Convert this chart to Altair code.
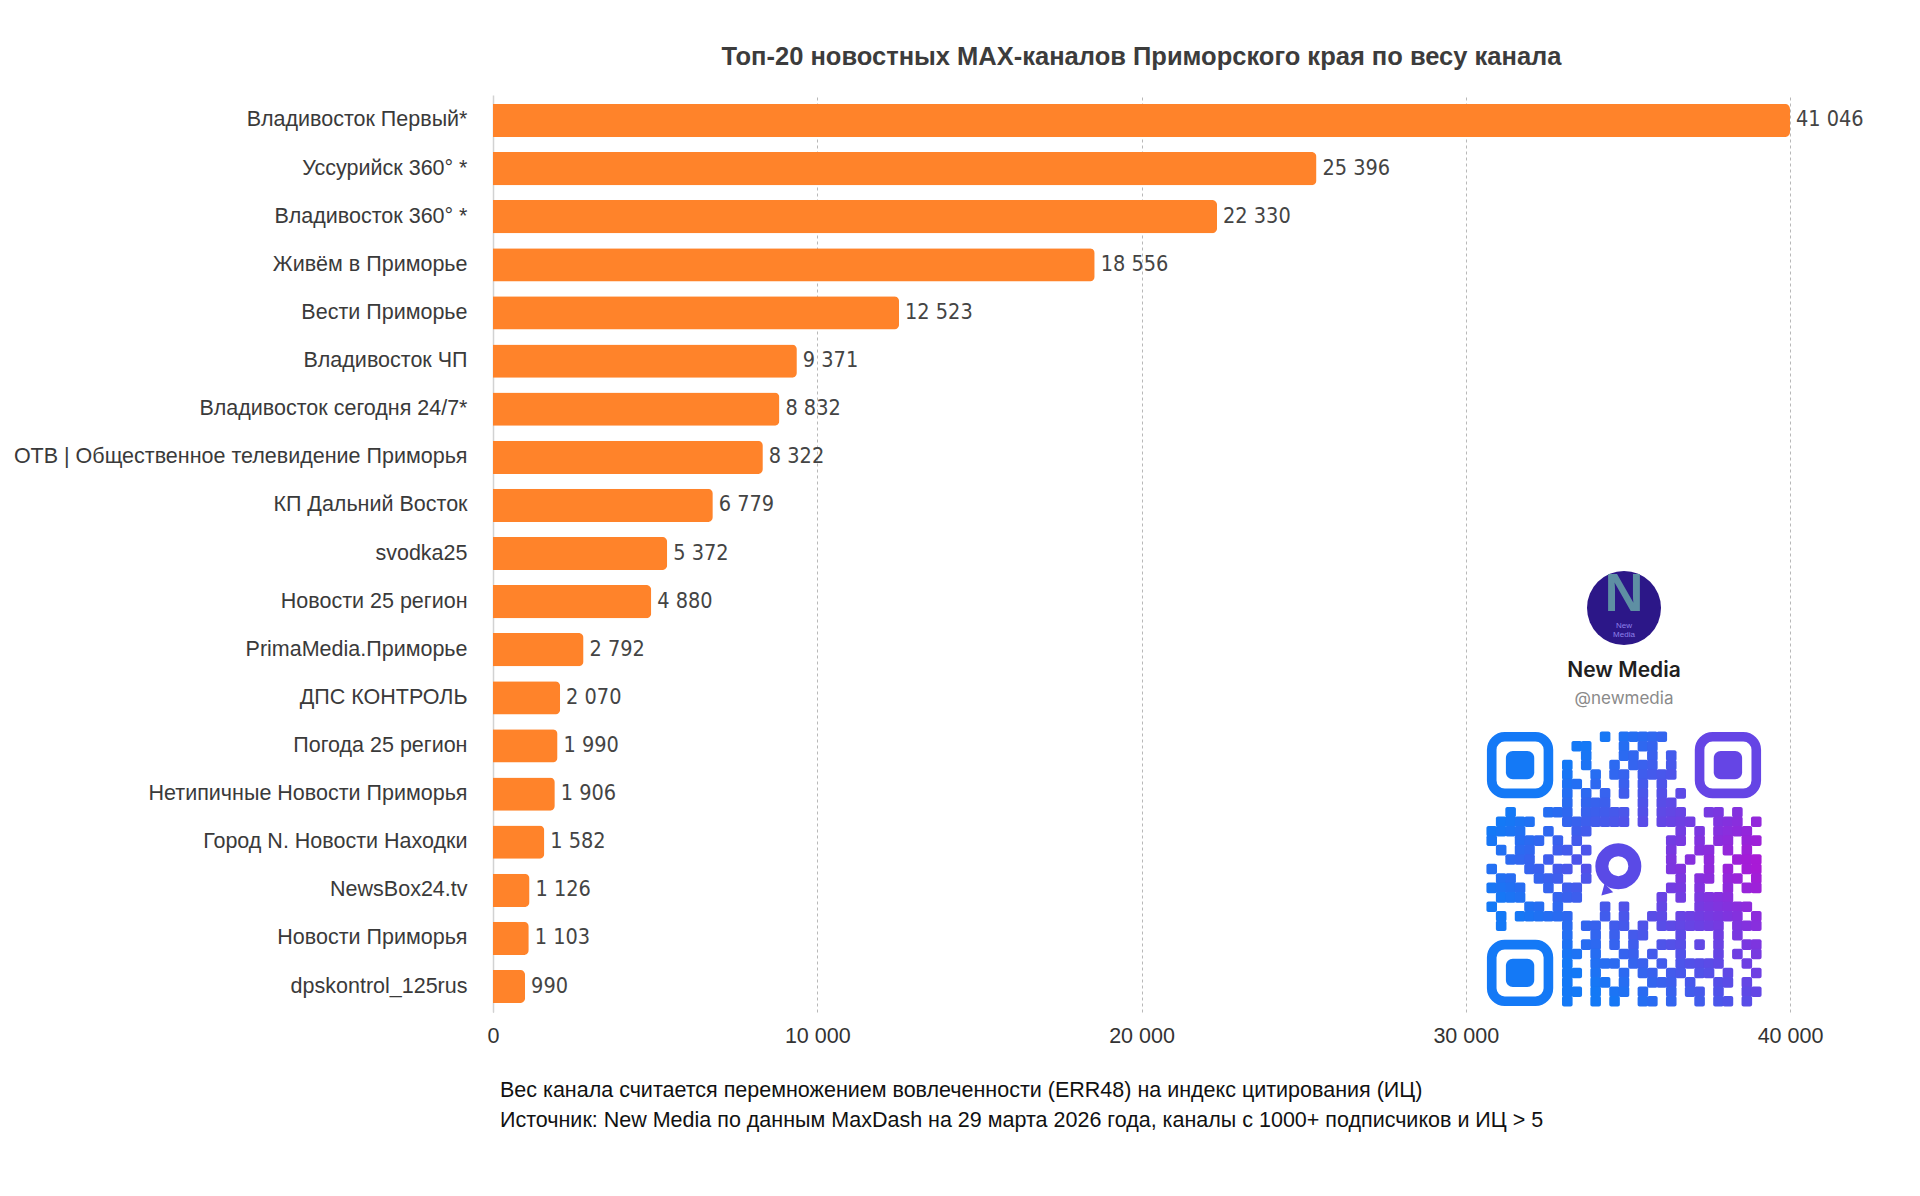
import altair as alt
import pandas as pd

# ---------------- data ----------------
channels = [
    "Владивосток Первый*", "Уссурийск 360° *", "Владивосток 360° *", "Живём в Приморье",
    "Вести Приморье", "Владивосток ЧП", "Владивосток сегодня 24/7*",
    "ОТВ | Общественное телевидение Приморья", "КП Дальний Восток", "svodka25",
    "Новости 25 регион", "PrimaMedia.Приморье", "ДПС КОНТРОЛЬ", "Погода 25 регион",
    "Нетипичные Новости Приморья", "Город N. Новости Находки", "NewsBox24.tv",
    "Новости Приморья", "dpskontrol_125rus",
]
weights = [41046, 25396, 22330, 18556, 12523, 9371, 8832, 8322, 6779, 5372,
           4880, 2792, 2070, 1990, 1906, 1582, 1126, 1103, 990]
x_ticks = [0, 10000, 20000, 30000, 40000]

title_text = "Топ-20 новостных MAX-каналов Приморского края по весу канала"
note_lines = [
    "Вес канала считается перемножением вовлеченности (ERR48) на индекс цитирования (ИЦ)",
    "Источник: New Media по данным MaxDash на 29 марта 2026 года, каналы с 1000+ подписчиков и ИЦ > 5",
]
brand_name = "New Media"
brand_handle = "@newmedia"

# QR modules (approximate), 29 x 29
qr_full = {
    0: "#######.....#.#####...#######",
    1: "#.....#..##...#.##....#.....#",
    2: "#.###.#...#...##.#.#..#.###.#",
    3: "#.###.#.#.#..#.###.#..#.###.#",
    4: "#.###.#.#..#.##.####..#.###.#",
    5: "#.....#.##.#..#.#.#...#.....#",
    6: "#######.#.#.#.#.#.#.#.#######",
    7: "........#.###...#.##.........",
    8: "..#...###.#####.#.###..##.#..",
    9: ".####...#######.#.####..###.#",
    10: "####..#..##.........#.#.####.",
    18: "#...##.#....#.#...#...######.",
    19: ".#.######...#.#..##.#######.#",
    20: ".#......#.##.##.#.#######.###",
    21: "........#..#.#.##...#...#.#..",
    22: "#######.#.##.#.#..###.#.#..##",
    23: "#.....#.##.#..##.#..#...#.#.#",
    24: "#.###.#.#..###.##.#.#####..#.",
    25: "#.###.#.##.#..#.##.##.##.#..#",
    26: "#.###.#.#..##.#..###.#..##.#.",
    27: "#.....#.##.#.##.#..#.##.#..##",
    28: "#######.#..#.#..##.#..#.##.#.",
}
qr_mid = {
    11: ("#..###.#.#.", ".##.#.##.##"),
    12: (".#.##..##.#", ".#..##.#.#."),
    13: ("..###.#..#.", ".#.#.#..###"),
    14: ("#...##.##.#", ".##..#.#.##"),
    15: (".##..###..#", "..#.##.##.#"),
    16: ("####..#.##.", ".##.#..#.##"),
    17: (".###...###.", "#.#.####..."),
}

# ---------------- frames ----------------
df = pd.DataFrame({"channel": channels, "weight": weights})
df["label"] = [f"{v:,}".replace(",", " ") for v in weights]

rows = []
for r in range(29):
    if r in qr_full:
        s = qr_full[r]
    else:
        a, b = qr_mid[r]
        s = a + "." * 7 + b
    s = (s + "." * 29)[:29]
    rows.append(s)


def in_finder(r, c):
    return (r < 7 and c < 7) or (r < 7 and c > 21) or (r > 21 and c < 7)


def grad(c, r):
    return 0.1 + 0.9 * c / 28 - 0.5 * abs(r - 14) / 14


OV = 0.06
mods = []
for r, s in enumerate(rows):
    for c, ch in enumerate(s):
        if ch == "#" and not in_finder(r, c):
            mods.append({"x0": c - OV, "x1": c + 1 + OV, "y0": r - OV, "y1": r + 1 + OV,
                         "g": grad(c + 0.5, r + 0.5)})
mods = pd.DataFrame(mods)

finder_origins = [(0, 0), (22, 0), (0, 22)]
outer = pd.DataFrame([{"x0": c + 0.5, "x1": c + 6.5, "y0": r + 0.5, "y1": r + 6.5,
                       "g": grad(c + 3.5, r + 3.5)} for c, r in finder_origins])
inner = pd.DataFrame([{"x0": c + 2, "x1": c + 5, "y0": r + 2, "y1": r + 5,
                       "g": grad(c + 3.5, r + 3.5)} for c, r in finder_origins])
ring = pd.DataFrame([{"cx": 13.9, "cy": 14.2}])
tail = pd.DataFrame([{"cx": 12.5, "cy": 16.9}])

# ---------------- main bars ----------------
W, H = 1297, 917
FONT = "Liberation Sans, Arial, Helvetica, sans-serif"
NARROW = "Liberation Sans Narrow, Arial Narrow, DejaVu Sans Condensed, sans-serif"

x_enc = alt.X(
    "weight:Q",
    scale=alt.Scale(domain=[0, 40000], clamp=True, nice=False),
    axis=alt.Axis(values=x_ticks, title=None, grid=True, gridDash=[3, 3], gridColor="#b8b8b8",
                  gridWidth=1, domain=False, ticks=False, tickSize=0, labelPadding=13,
                  labelFlush=False, labelFont=FONT, labelFontSize=21.5, labelColor="#333333",
                  labelExpr="replace(format(datum.value, ',d'), ',', ' ')"),
)
y_enc = alt.Y(
    "channel:N", sort=channels,
    scale=alt.Scale(paddingInner=0.31, paddingOuter=0.185),
    axis=alt.Axis(title=None, domain=True, domainColor="#d2d2d2", domainWidth=1.5, ticks=False,
                  tickSize=0, grid=False, labelPadding=26, labelFont=FONT, labelFontSize=21.5,
                  labelColor="#3a3a3a", labelLimit=0),
)

bars = alt.Chart(df).mark_bar(color="#FF832A", cornerRadiusEnd=5).encode(x=x_enc, y=y_enc)
vals = alt.Chart(df).mark_text(align="left", baseline="middle", dx=6, font=NARROW,
                               fontSize=21.5, color="#444444").encode(
    x="weight:Q", y=alt.Y("channel:N", sort=channels), text="label:N")
main = alt.layer(bars, vals)

# ---------------- QR / brand panel ----------------
qx = alt.Scale(domain=[0, 29], range=[994, 1268], nice=False, zero=False)
qy = alt.Scale(domain=[0, 29], range=[637, 911], nice=False, zero=False)
qcol = alt.Color("g:Q", scale=alt.Scale(domain=[0, 1], range=["#1479f6", "#a81ad6"],
                                        interpolate="rgb", clamp=True), legend=None)

mod_layer = alt.Chart(mods).mark_rect(cornerRadius=2).encode(
    x=alt.X("x0:Q", scale=qx, axis=None), x2="x1:Q",
    y=alt.Y("y0:Q", scale=qy, axis=None), y2="y1:Q", color=qcol)
outer_layer = alt.Chart(outer).mark_rect(filled=False, strokeWidth=9.6, cornerRadius=13).encode(
    x=alt.X("x0:Q", scale=qx, axis=None), x2="x1:Q",
    y=alt.Y("y0:Q", scale=qy, axis=None), y2="y1:Q", color=qcol)
inner_layer = alt.Chart(inner).mark_rect(cornerRadius=7).encode(
    x=alt.X("x0:Q", scale=qx, axis=None), x2="x1:Q",
    y=alt.Y("y0:Q", scale=qy, axis=None), y2="y1:Q", color=qcol)
ring_layer = alt.Chart(ring).mark_point(shape="circle", filled=False, size=1089, strokeWidth=13,
                                        color="#5a4ae6", opacity=1).encode(
    x=alt.X("cx:Q", scale=qx, axis=None), y=alt.Y("cy:Q", scale=qy, axis=None))
tail_layer = alt.Chart(tail).mark_point(shape="triangle-down", filled=True, size=150, angle=45,
                                        color="#5a4ae6", opacity=1).encode(
    x=alt.X("cx:Q", scale=qx, axis=None), y=alt.Y("cy:Q", scale=qy, axis=None))

one = pd.DataFrame({"a": [0]})
logo = alt.Chart(one).mark_circle(size=5476, color="#2c1788", opacity=1).encode(
    x=alt.value(1131), y=alt.value(513))
logo_n = alt.Chart(one).mark_text(
    text="N", font=FONT, fontWeight="bold", fontSize=54, color="#5e8fa3", baseline="middle",
    align="center").encode(x=alt.value(1131), y=alt.value(500))
logo_small1 = alt.Chart(one).mark_text(
    text="New", font=FONT, fontSize=8, color="#8f80ea", baseline="middle", align="center"
).encode(x=alt.value(1131), y=alt.value(531))
logo_small2 = alt.Chart(one).mark_text(
    text="Media", font=FONT, fontSize=8, color="#8f80ea", baseline="middle", align="center"
).encode(x=alt.value(1131), y=alt.value(540))
name_txt = alt.Chart(one).mark_text(
    text=brand_name, font="Inter, Roboto, sans-serif", fontWeight=600, fontSize=21,
    color="#1f1f1f", baseline="middle", align="center").encode(x=alt.value(1131), y=alt.value(576))
handle_txt = alt.Chart(one).mark_text(
    text=brand_handle, font="Inter, Roboto, sans-serif", fontSize=17, color="#8a8a8a",
    baseline="middle", align="center").encode(x=alt.value(1131), y=alt.value(604))

note1 = alt.Chart(one).mark_text(
    text=note_lines[0], font=FONT, fontSize=21.5, color="#111111", baseline="middle", align="left"
).encode(x=alt.value(7), y=alt.value(996))
note2 = alt.Chart(one).mark_text(
    text=note_lines[1], font=FONT, fontSize=21.5, color="#111111", baseline="middle", align="left"
).encode(x=alt.value(7), y=alt.value(1026))

panel = alt.layer(mod_layer, outer_layer, inner_layer, ring_layer, tail_layer, logo, logo_n,
                  logo_small1, logo_small2, name_txt, handle_txt, note1, note2)

chart = alt.layer(main, panel).resolve_scale(
    x="independent", y="independent", color="independent"
).properties(
    width=W, height=H,
    padding={"left": 485, "top": 87, "right": 122, "bottom": 176},
    autosize=alt.AutoSizeParams(type="none"),
    background="white",
    title=alt.Title(title_text, font=FONT, fontSize=25.5, fontWeight="bold", color="#3c3c3c",
                    anchor="middle", frame="group", offset=25),
).configure_view(stroke=None)

chart.save("out.html", embed_options={"renderer": "svg", "actions": False})
